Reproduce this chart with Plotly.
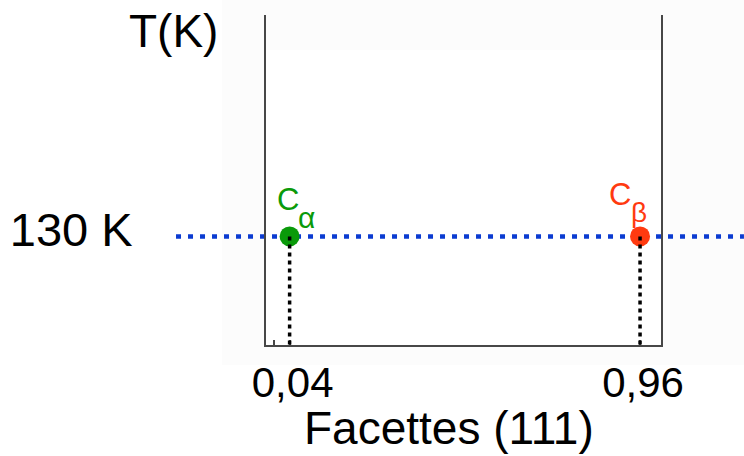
import plotly.graph_objects as go

# Phase diagram cut at one temperature: composition axis = fraction of (111) facets
phase_letter = ["C", "C"]
phase_index = ["α", "β"]
phase_x = [0.04, 0.96]
phase_colors = ["#0A9A0A", "#FF3A10"]
temperature_K = 130

x_tick_vals = [0, 0.04, 0.96]
x_tick_text = ["", "0,04", "0,96"]
y_tick_vals = [temperature_K]
y_tick_text = ["130 K"]
x_title = "Facettes (111)"
y_title = "T(K)"

FONT = "Liberation Sans, Arial, sans-serif"
AXIS_COLOR = "#474747"
ISO_COLOR = "#0B3BD1"

# label placement around each point, in pixels: (letter dx, dy, index dx, dy, index size)
label_offsets = [(-1.5, 37, 17, 18.5, 30), (-20.5, 41.5, -1.5, 24, 28)]

fig = go.Figure()

# coexistence compositions at the isotherm
fig.add_trace(go.Scatter(
    x=phase_x,
    y=[temperature_K] * len(phase_x),
    mode="markers",
    marker=dict(size=20, color=phase_colors, line=dict(width=0)),
    cliponaxis=False,
    hoverinfo="skip",
    showlegend=False,
))

shapes = [
    # faint backdrop around the frame (even-odd hole leaves the frame interior white)
    dict(type="path", xref="paper", yref="paper", layer="below",
         path="M -0.1114 -0.0606 L 1.2101 -0.0606 L 1.2101 1.0455 L -0.1114 1.0455 Z "
              "M 0 0 L 1 0 L 1 0.894 L 0 0.894 Z",
         fillrule="evenodd", fillcolor="#FCFCFC", line=dict(width=0)),
    # isotherm
    dict(type="line", xref="paper", yref="y", layer="below",
         x0=-0.2278, x1=1.21, y0=temperature_K, y1=temperature_K,
         line=dict(color=ISO_COLOR, width=4.5, dash="5px,7px")),
]
# drop lines from each phase point to the composition axis
for xv in phase_x:
    shapes.append(dict(type="line", xref="x", yref="y", layer="above",
                       x0=xv, x1=xv, y0=temperature_K, y1=0,
                       line=dict(color="black", width=3.5, dash="4px,4px")))

annotations = []
for letter, idx, xv, col, (ldx, ldy, idx_dx, idx_dy, idx_size) in zip(
        phase_letter, phase_index, phase_x, phase_colors, label_offsets):
    annotations.append(dict(
        x=xv, y=temperature_K, xref="x", yref="y", text=letter, showarrow=False,
        xanchor="center", yanchor="middle", xshift=ldx, yshift=ldy,
        font=dict(family=FONT, size=31, color=col)))
    annotations.append(dict(
        x=xv, y=temperature_K, xref="x", yref="y", text=idx, showarrow=False,
        xanchor="center", yanchor="middle", xshift=idx_dx, yshift=idx_dy,
        font=dict(family=FONT, size=idx_size, color=col)))

# axis captions
annotations.append(dict(
    x=-0.233, y=0.9515, xref="paper", yref="paper", text=y_title,
    showarrow=False, xanchor="center", yanchor="middle",
    font=dict(family=FONT, size=46, color="black")))
annotations.append(dict(
    x=0.463, y=-0.2515, xref="paper", yref="paper", text=x_title,
    showarrow=False, xanchor="center", yanchor="middle", borderpad=0,
    font=dict(family=FONT, size=46, color="black")))

fig.update_layout(
    width=744, height=456,
    margin=dict(l=266, r=83, t=15, b=111),
    paper_bgcolor="white",
    plot_bgcolor="rgba(0,0,0,0)",
    font=dict(family=FONT, color="black"),
    shapes=shapes,
    annotations=annotations,
    showlegend=False,
    xaxis=dict(
        range=[-0.022, 1.015], showgrid=False, zeroline=False, automargin=False,
        showline=True, linecolor=AXIS_COLOR, linewidth=2, mirror=False,
        tickvals=x_tick_vals, ticktext=x_tick_text,
        ticks="inside", ticklen=5, tickwidth=1.5, tickcolor=AXIS_COLOR,
        tickfont=dict(family=FONT, size=42, color="black"),
        ticklabelstandoff=0, ticklabelshift=3,
    ),
    yaxis=dict(
        range=[0, 395], showgrid=False, zeroline=False, automargin=False,
        showline=True, linecolor=AXIS_COLOR, linewidth=2, mirror=True,
        tickvals=y_tick_vals, ticktext=y_tick_text, ticks="",
        tickfont=dict(family=FONT, size=47, color="black"),
        ticklabelstandoff=122, ticklabelshift=-7,
    ),
)

fig.write_html("out.html")
